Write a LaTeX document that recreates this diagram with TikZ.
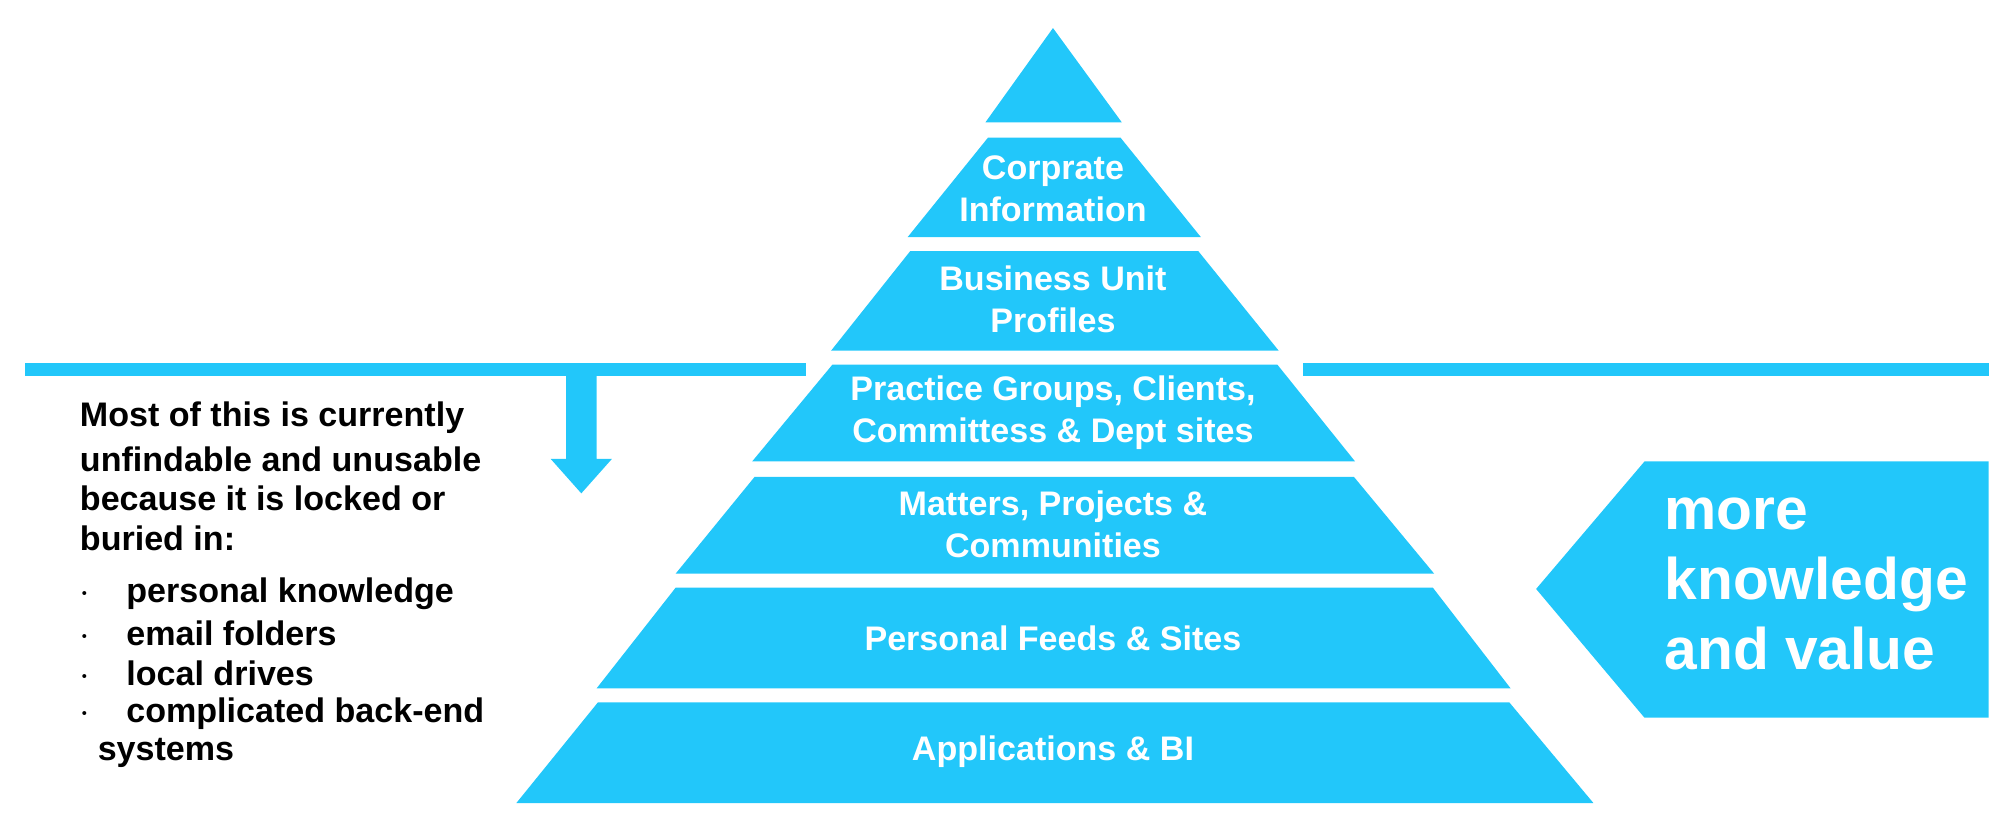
\documentclass[tikz,border=0pt]{standalone}
\usepackage{fontspec}
\setmainfont{Liberation Sans}
\begin{document}
\begin{tikzpicture}
\definecolor{cy}{HTML}{22C7FA}
\tikzset{layer/.style={fill=cy,draw=none},
  lab/.style={text=white,font=\fontsize{7.6}{9.4}\selectfont\bfseries,align=center},
  side/.style={text=black,font=\fontsize{7.6}{9.4}\selectfont\bfseries,anchor=west,inner sep=0pt}}
\path[use as bounding box] (0,0) rectangle (15.68,6.406);
\begin{scope}[shift={(0,6.406)},x=0.01cm,y=-0.01cm]
\fill[layer] (826,22) -- (880,96) -- (773,96) -- cycle;
\fill[layer] (775,108) -- (879,108) -- (942,186) -- (712,186) -- cycle;
\fill[layer] (714,197) -- (940,197) -- (1003,275) -- (652,275) -- cycle;
\fill[layer] (653,286) -- (1002,286) -- (1063,362) -- (590,362) -- cycle;
\fill[layer] (592,374) -- (1062,374) -- (1125,450) -- (530,450) -- cycle;
\fill[layer] (530,461) -- (1124,461) -- (1185,540) -- (468,540) -- cycle;
\fill[layer] (469,551) -- (1184,551) -- (1250,630) -- (405,630) -- cycle;
\node[lab] (l2) at (826,148) {Corprate\\Information};
\node[lab] (l3) at (826,235) {Business Unit\\Profiles};
\node[lab] (l4) at (826,324) {Practice Groups, Clients,\\Committess \& Dept sites};
\node[lab] (l5) at (826,411) {Matters, Projects \&\\Communities};
\node[lab] (l6) at (826,501) {Personal Feeds \& Sites};
\node[lab] (l7) at (826,590) {Applications \& BI};
\fill[cy] (20,285) rectangle (632,295);
\fill[cy] (1022,285) rectangle (1560,295);
\fill[cy] (444,285) -- (468,285) -- (468,360) -- (480,360) -- (456,387) -- (432,360) -- (444,360) -- cycle;
\fill[cy] (1205,462) -- (1290,362) -- (1560,362) -- (1560,563) -- (1290,563) -- cycle;
\node[anchor=west,text=white,font=\fontsize{13.1}{15.6}\selectfont\bfseries,align=left,inner sep=0pt] (mk) at (1305,458) {more\\knowledge\\and value};
\node[side] (t1) at (62,328) {Most of this is currently};
\node[side] (t2) at (62,360) {unfindable and unusable};
\node[side] (t3) at (62,391) {because it is locked or};
\node[side] (t4) at (62,422) {buried in:};
\node[side] (b1) at (62,466) {$\cdot$\hspace{8pt}personal knowledge};
\node[side] (b2) at (62,497) {$\cdot$\hspace{8pt}email folders};
\node[side] (b3) at (62,528) {$\cdot$\hspace{8pt}local drives};
\node[side] (b4) at (62,560) {$\cdot$\hspace{8pt}complicated back-end};
\node[side] (b5) at (76,591) {systems};
\end{scope}
\end{tikzpicture}
\end{document}
